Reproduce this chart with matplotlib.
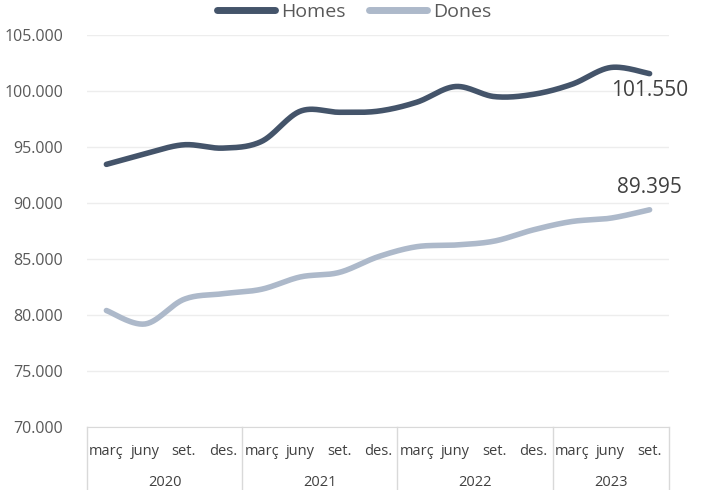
import matplotlib
matplotlib.use("Agg")
import matplotlib.pyplot as plt
from matplotlib.ticker import FuncFormatter
import numpy as np

months = ["març", "juny", "set.", "des."] * 3 + ["març", "juny", "set."]
years = ["2020", "2021", "2022", "2023"]
year_sizes = [4, 4, 4, 3]

homes = [93450, 94400, 95200, 94900, 95500, 98200, 98100, 98200,
         99000, 100400, 99500, 99700, 100600, 102100, 101550]
dones = [80400, 79200, 81400, 81900, 82300, 83400, 83800, 85200,
         86100, 86250, 86600, 87600, 88350, 88650, 89395]

plt.rcParams['font.family'] = ['Open Sans', 'DejaVu Sans']


def smooth(y, n=30):
    # bezier smoothing like the spreadsheet "smoothed line"
    x = np.arange(len(y), dtype=float)
    y = np.asarray(y, dtype=float)
    px = np.concatenate([[x[0]], x, [x[-1]]])
    py = np.concatenate([[y[0]], y, [y[-1]]])
    xs, ys = [], []
    t = np.linspace(0, 1, n)
    for i in range(len(y) - 1):
        p0 = np.array([px[i], py[i]])
        p1 = np.array([px[i + 1], py[i + 1]])
        p2 = np.array([px[i + 2], py[i + 2]])
        p3 = np.array([px[i + 3], py[i + 3]])
        c1 = p1 + (p2 - p0) / 6
        c2 = p2 - (p3 - p1) / 6
        b = ((1 - t) ** 3)[:, None] * p1 + (3 * (1 - t) ** 2 * t)[:, None] * c1 \
            + (3 * (1 - t) * t ** 2)[:, None] * c2 + (t ** 3)[:, None] * p2
        xs.extend(b[:, 0])
        ys.extend(b[:, 1])
    return xs, ys


fig = plt.figure(figsize=(7.08, 4.9), dpi=100)
ax = fig.add_axes([87 / 708, 1 - 427 / 490, 582 / 708, 392 / 490])

c_h = "#44546A"
c_d = "#ADB9CA"
hx, hy = smooth(homes)
dx, dy = smooth(dones)
ax.plot(hx, hy, color=c_h, lw=4, solid_capstyle="round", label="Homes")
ax.plot(dx, dy, color=c_d, lw=4, solid_capstyle="round", label="Dones")

ax.set_xlim(-0.5, len(months) - 0.5)
ax.set_ylim(70000, 105000)
ax.set_yticks(np.arange(70000, 105001, 5000))
ax.yaxis.set_major_formatter(FuncFormatter(lambda v, p: f"{v:,.0f}".replace(",", ".")))
ax.tick_params(axis="y", length=0, labelsize=11.5, labelcolor="#595959", pad=17)
ax.set_xticks([])
ax.grid(axis="y", color="#EDEDED", lw=1)
ax.set_axisbelow(True)
for s in ["left", "right", "top"]:
    ax.spines[s].set_visible(False)
ax.spines["bottom"].set_color("#D9D9D9")

# two-level category axis
trans = ax.get_xaxis_transform()
for i, m in enumerate(months):
    ax.text(i, -0.062, m, transform=trans, ha="center", va="center",
            fontsize=10.5, color="#404040")
start = 0
bounds = [-0.5]
for yr, n in zip(years, year_sizes):
    ax.text(start + (n - 1) / 2, -0.142, yr, transform=trans, ha="center",
            va="center", fontsize=10.5, color="#404040")
    start += n
    bounds.append(start - 0.5)
for b in bounds:
    ax.plot([b, b], [0, -0.17], transform=trans, color="#D9D9D9", lw=1,
            clip_on=False)

# end labels
last = len(months) - 1
ax.annotate(f"{homes[-1]:,.0f}".replace(",", "."), (last, homes[-1]),
            xytext=(0, -12), textcoords="offset points", ha="center",
            va="center", fontsize=15, color="#404040")
ax.annotate(f"{dones[-1]:,.0f}".replace(",", "."), (last, dones[-1]),
            xytext=(0, 16), textcoords="offset points", ha="center",
            va="center", fontsize=15, color="#404040")

leg = fig.legend(*ax.get_legend_handles_labels(), loc="center",
                 bbox_to_anchor=(0.5, 1 - 12 / 490), ncol=2,
                 frameon=False, fontsize=14, handlelength=3.0,
                 handletextpad=0.3, columnspacing=1.2, borderaxespad=0)
for ln in leg.get_lines():
    ln.set_linewidth(5)
for t in leg.get_texts():
    t.set_color("#595959")

fig.savefig("out.png", dpi=100)
